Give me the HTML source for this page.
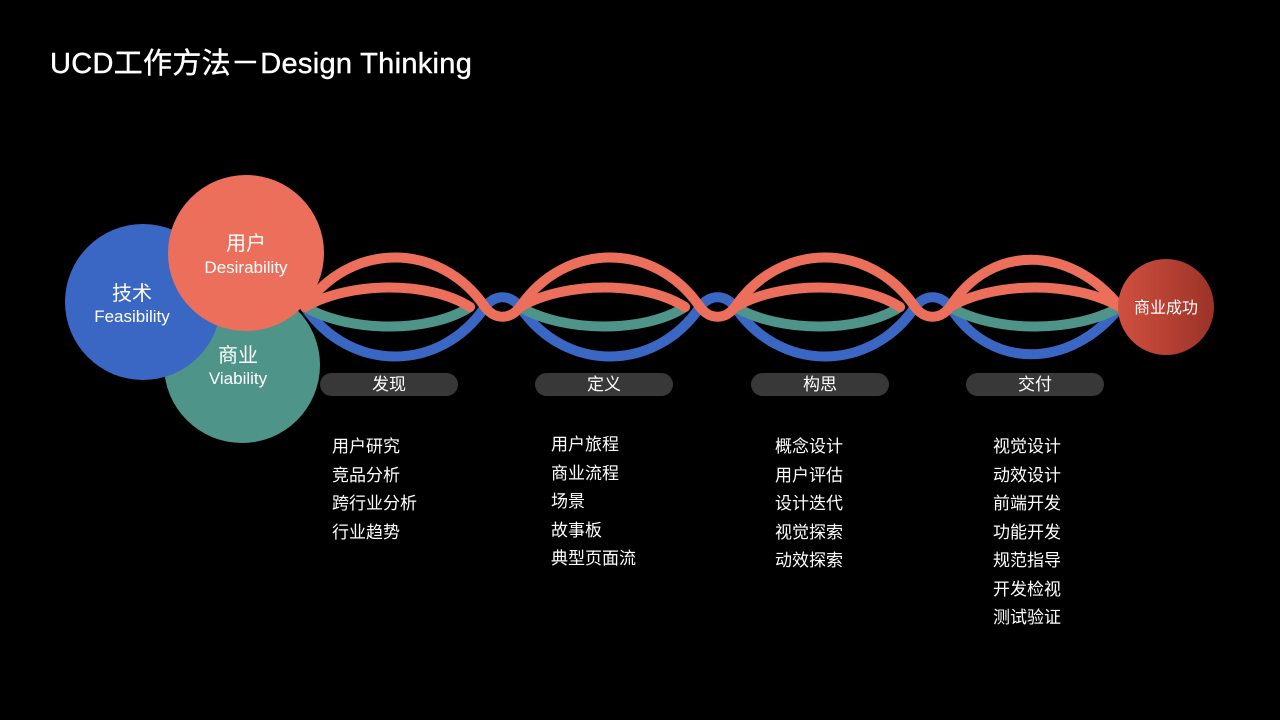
<!DOCTYPE html>
<html><head><meta charset="utf-8"><style>
body{margin:0;background:#000;width:1280px;height:720px;overflow:hidden;font-family:"Liberation Sans","Noto Sans CJK SC",sans-serif;color:#fff;position:relative}
.t{position:absolute;left:50px;top:40px;font-size:29px;letter-spacing:0.3px;-webkit-text-stroke:0.4px #fff}
.pill{position:absolute;top:373px;width:138px;height:23px;border-radius:12px;background:#383838;text-align:center;font-size:17px;line-height:23px}
.l{position:absolute;top:433px;font-size:17px;line-height:28.5px}
</style></head><body>
<div class="t">UCD工作方法－Design Thinking</div>
<svg width="1280" height="720" style="position:absolute;left:0;top:0">
<defs><linearGradient id="g" x1="0" x2="1"><stop offset="0" stop-color="#d0503f"/><stop offset="1" stop-color="#9c3228"/></linearGradient></defs>
<circle cx="242" cy="365" r="78" fill="#4f9488"/>
<circle cx="143" cy="302" r="78" fill="#3b67c4"/>
<circle cx="246" cy="253" r="78" fill="#ec6f5c"/>
<g fill="none" stroke-width="10" stroke-linecap="round">
<path stroke="#3b67c4" d="M305,307 C350,373 440,373 485,307 C495,294 510,294 520,307 C565,373 655,373 700,307 C710,294 725,294 735,307 C780,373 870,373 915,307 C925,294 940,294 950,307 C990,370 1070,370 1120,307"/>
<path stroke="#4f9488" d="M305,307 C350,333 430,333 470,307 M520,307 C565,333 645,333 685,307 M735,307 C780,333 860,333 900,307 M950,307 C995,333 1075,333 1120,307"/>
<path stroke="#ec6f5c" d="M305,307 C350,281 430,281 470,307 M520,307 C565,281 645,281 685,307 M735,307 C780,281 860,281 900,307 M950,307 C995,281 1075,281 1120,307"/>
<path stroke="#ec6f5c" d="M305,307 C350,241 440,241 485,307 C495,320 510,320 520,307 C565,241 655,241 700,307 C710,320 725,320 735,307 C780,241 870,241 915,307 C925,320 940,320 950,307 C990,244 1070,244 1120,307"/>
</g>
<circle cx="1166" cy="307" r="48" fill="url(#g)"/>
<g text-anchor="middle" fill="#fff" font-family="Liberation Sans,Noto Sans CJK SC,sans-serif">
<text x="246" y="250" font-size="20">用户</text><text x="246" y="273" font-size="17">Desirability</text>
<text x="132" y="300" font-size="20">技术</text><text x="132" y="322" font-size="17">Feasibility</text>
<text x="238" y="362" font-size="20">商业</text><text x="238" y="384" font-size="17">Viability</text>
<text x="1166" y="313" font-size="16">商业成功</text>
</g>
</svg>
<div class="pill" style="left:320px">发现</div>
<div class="pill" style="left:535px">定义</div>
<div class="pill" style="left:751px">构思</div>
<div class="pill" style="left:966px">交付</div>
<div class="l" style="left:332px">用户研究<br>竞品分析<br>跨行业分析<br>行业趋势</div>
<div class="l" style="left:551px;top:431px">用户旅程<br>商业流程<br>场景<br>故事板<br>典型页面流</div>
<div class="l" style="left:775px">概念设计<br>用户评估<br>设计迭代<br>视觉探索<br>动效探索</div>
<div class="l" style="left:993px">视觉设计<br>动效设计<br>前端开发<br>功能开发<br>规范指导<br>开发检视<br>测试验证</div>
</body></html>
